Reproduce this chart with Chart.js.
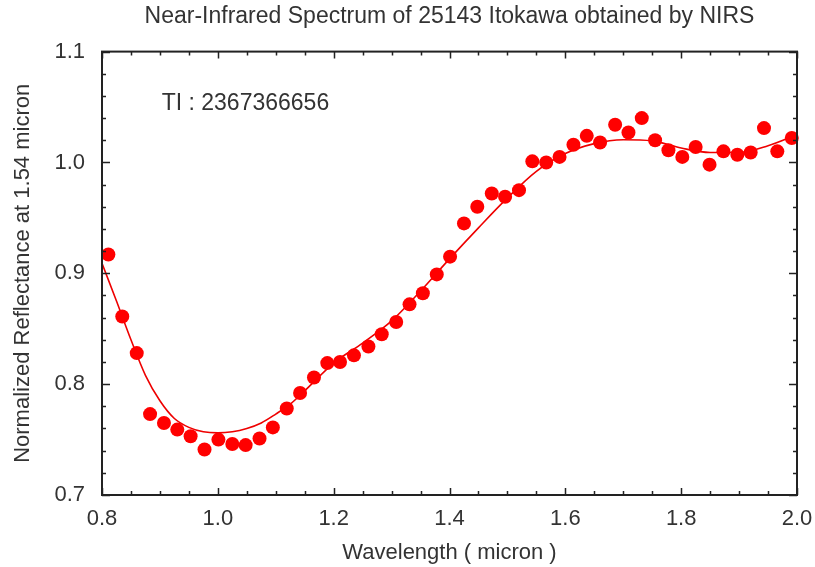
<!DOCTYPE html>
<html>
<head>
<meta charset="utf-8">
<script src="https://cdn.jsdelivr.net/npm/chart.js@4.4.0/dist/chart.umd.min.js"></script>
<style>
  html, body { margin: 0; padding: 0; background: #ffffff; }
  #wrap { width: 815px; height: 567px; }
</style>
</head>
<body>
<div id="wrap"><canvas id="c" width="815" height="567"></canvas></div>
<script>
// ---- Data ----
const wavelength = [0.811,0.835,0.860,0.883,0.907,0.930,0.953,0.977,1.001,1.025,1.048,1.072,1.095,1.119,1.142,1.166,1.189,1.211,1.235,1.260,1.283,1.308,1.331,1.354,1.378,1.401,1.425,1.448,1.473,1.496,1.520,1.543,1.567,1.590,1.614,1.637,1.660,1.686,1.709,1.732,1.755,1.778,1.802,1.825,1.849,1.873,1.897,1.920,1.943,1.966,1.991];
const reflectance = [0.917,0.861,0.828,0.773,0.765,0.759,0.753,0.741,0.750,0.746,0.745,0.751,0.761,0.778,0.792,0.806,0.819,0.820,0.826,0.834,0.845,0.856,0.872,0.882,0.899,0.915,0.945,0.960,0.972,0.969,0.975,1.001,1.000,1.005,1.016,1.024,1.018,1.034,1.027,1.040,1.020,1.011,1.005,1.014,0.998,1.010,1.007,1.009,1.031,1.010,1.022];
const fitWavelength = [0.80,0.825,0.85,0.875,0.90,0.925,0.95,0.975,1.00,1.025,1.05,1.075,1.10,1.125,1.15,1.20,1.25,1.30,1.35,1.40,1.45,1.50,1.55,1.60,1.65,1.70,1.75,1.80,1.85,1.90,1.95,2.00];
const fitReflectance = [0.909,0.875,0.840,0.808,0.785,0.769,0.761,0.757,0.756,0.757,0.760,0.765,0.773,0.782,0.794,0.819,0.837,0.857,0.884,0.913,0.941,0.968,0.992,1.008,1.017,1.0205,1.0195,1.013,1.009,1.009,1.015,1.025];
const xTicks = [0.8,1.0,1.2,1.4,1.6,1.8,2.0];
const yTicks = [0.7,0.8,0.9,1.0,1.1];
const xMinorStep = 0.05;
const yMinorStep = 0.02;
const annotationText = 'TI : 2367366656';
const annotationAt = {x: 0.903, y: 1.053};

const FONT = '"Liberation Sans", Arial, Helvetica, sans-serif';
const TEXT = '#333333';

const pointsData = wavelength.map((w, i) => ({x: w, y: reflectance[i]}));
const fitData = fitWavelength.map((w, i) => ({x: w, y: fitReflectance[i]}));

const framePlugin = {
  id: 'frame',
  beforeDraw(chart) {
    const ctx = chart.ctx;
    ctx.save();
    ctx.fillStyle = '#ffffff';
    ctx.fillRect(0, 0, chart.width, chart.height);
    ctx.restore();
  },
  afterDatasetsDraw(chart) {
    const {ctx, chartArea: a, scales: {x, y}} = chart;
    ctx.save();
    ctx.strokeStyle = '#222222';
    ctx.lineWidth = 1.5;
    // inward ticks
    const majorLen = 7, minorLen = 4;
    ctx.beginPath();
    const nx = Math.round((x.max - x.min) / xMinorStep);
    for (let i = 0; i <= nx; i++) {
      const v = x.min + i * xMinorStep;
      const px = Math.round(x.getPixelForValue(v)) + 0.5;
      const major = xTicks.some(t => Math.abs(t - v) < 1e-6);
      const L = major ? majorLen : minorLen;
      ctx.moveTo(px, a.bottom); ctx.lineTo(px, a.bottom - L);
      ctx.moveTo(px, a.top); ctx.lineTo(px, a.top + L);
    }
    const ny = Math.round((y.max - y.min) / yMinorStep);
    for (let i = 0; i <= ny; i++) {
      const v = y.min + i * yMinorStep;
      const py = Math.round(y.getPixelForValue(v)) + 0.5;
      const major = yTicks.some(t => Math.abs(t - v) < 1e-6);
      const L = major ? majorLen + 1 : minorLen;
      ctx.moveTo(a.left, py); ctx.lineTo(a.left + L, py);
      ctx.moveTo(a.right, py); ctx.lineTo(a.right - L, py);
    }
    ctx.stroke();
    ctx.lineWidth = 2;
    ctx.strokeRect(a.left, a.top, a.right - a.left, a.bottom - a.top);
    // annotation
    ctx.fillStyle = TEXT;
    ctx.font = '23px ' + FONT;
    ctx.textAlign = 'left';
    ctx.textBaseline = 'middle';
    ctx.fillText(annotationText, x.getPixelForValue(annotationAt.x), y.getPixelForValue(annotationAt.y));
    ctx.restore();
  }
};

new Chart(document.getElementById('c'), {
  type: 'scatter',
  data: {
    datasets: [
      {
        label: 'NIRS',
        data: pointsData,
        showLine: false,
        pointRadius: 7,
        pointHoverRadius: 7,
        pointBackgroundColor: '#ff0000',
        pointBorderColor: '#ff0000',
        pointBorderWidth: 0,
        clip: false
      },
      {
        label: 'fit',
        data: fitData,
        showLine: true,
        pointRadius: 0,
        borderColor: '#ee0000',
        borderWidth: 1.6,
        cubicInterpolationMode: 'monotone',
        fill: false
      }
    ]
  },
  options: {
    responsive: false,
    animation: false,
    devicePixelRatio: 1,
    layout: { padding: { left: 0, right: 18, top: 0, bottom: 0 } },
    plugins: {
      legend: { display: false },
      tooltip: { enabled: false },
      title: {
        display: true,
        fullSize: false,
        text: 'Near-Infrared Spectrum of 25143 Itokawa obtained by NIRS',
        color: TEXT,
        font: { family: FONT, size: 23, weight: 'normal', lineHeight: 1.2 },
        padding: { top: 3, bottom: 21 }
      }
    },
    scales: {
      x: {
        type: 'linear',
        min: 0.8,
        max: 2.0,
        afterBuildTicks(s) { s.ticks = xTicks.map(v => ({value: v})); },
        afterFit(s) { s.height = 72; s.paddingLeft = 0; s.paddingRight = 0; },
        grid: { display: false, drawTicks: false },
        border: { display: false },
        ticks: {
          color: TEXT,
          padding: 11,
          font: { family: FONT, size: 22, lineHeight: 1.2 },
          callback: v => Number(v).toFixed(1)
        },
        title: {
          display: true,
          text: 'Wavelength ( micron )',
          color: TEXT,
          font: { family: FONT, size: 22, lineHeight: 1.2 },
          padding: { top: 0, bottom: 1 }
        }
      },
      y: {
        type: 'linear',
        min: 0.7,
        max: 1.1,
        afterBuildTicks(s) { s.ticks = yTicks.map(v => ({value: v})); },
        afterFit(s) { s.width = 102; s.paddingTop = 0; s.paddingBottom = 0; },
        grid: { display: false, drawTicks: false },
        border: { display: false },
        ticks: {
          color: TEXT,
          padding: 17,
          font: { family: FONT, size: 22, lineHeight: 1.2 },
          callback: v => Number(v).toFixed(1)
        },
        title: {
          display: true,
          text: 'Normalized Reflectance at 1.54 micron',
          color: TEXT,
          font: { family: FONT, size: 22, lineHeight: 1.2 },
          padding: { top: 10, bottom: 0 }
        }
      }
    }
  },
  plugins: [framePlugin]
});
</script>
</body>
</html>
